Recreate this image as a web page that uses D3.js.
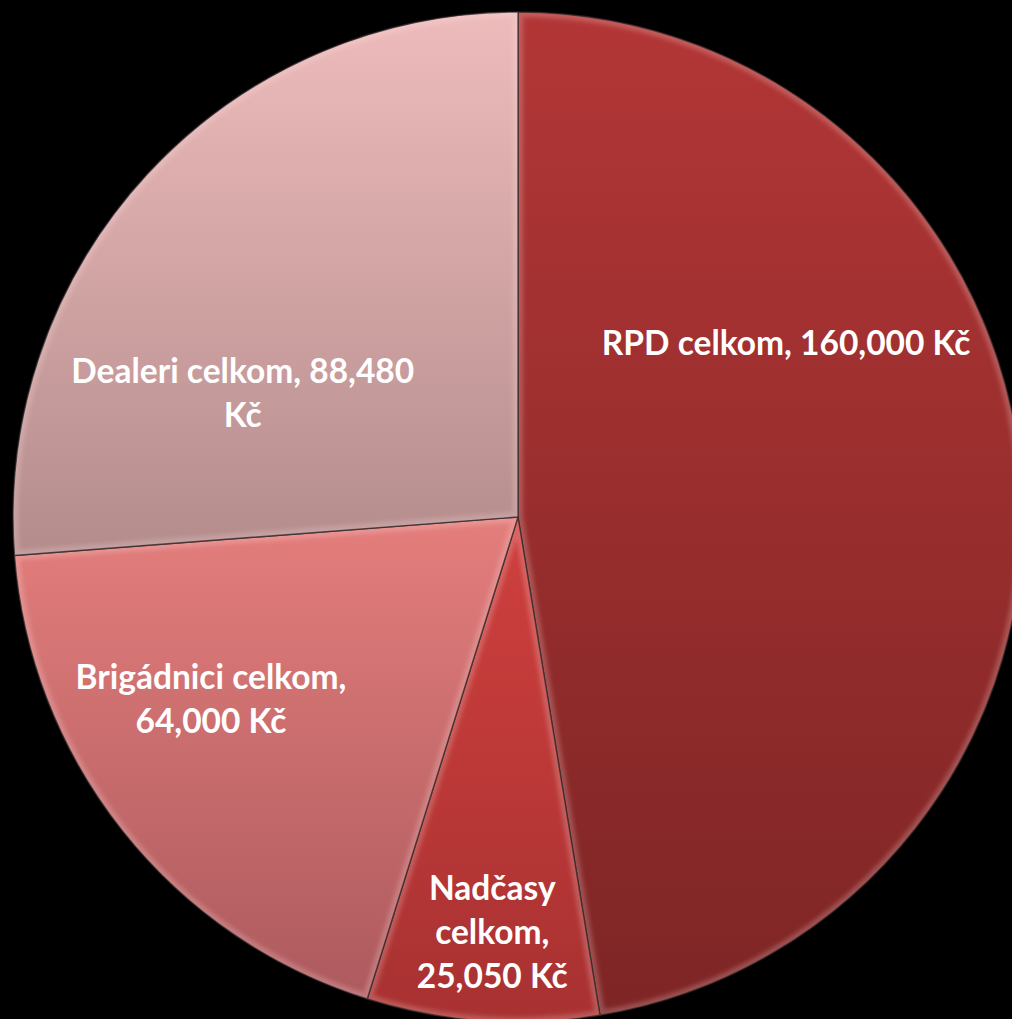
<!DOCTYPE html>
<html><head><meta charset="utf-8">
<script src="https://cdn.jsdelivr.net/npm/d3@7"></script>
<style>html,body{margin:0;padding:0;background:#000;}svg{display:block;}</style>
</head><body>
<script>
const categories = ["RPD celkom", "Nadčasy celkom", "Brigádnici celkom", "Dealeri celkom"];
const values = [160000, 25050, 64000, 88480];
const labelLines = [
  ["RPD celkom, 160,000 Kč"],
  ["Nadčasy", "celkom,", "25,050 Kč"],
  ["Brigádnici celkom,", "64,000 Kč"],
  ["Dealeri celkom, 88,480", "Kč"]
];
const topColors = ["#b33636", "#cf403e", "#e47e7c", "#eebbbb"];
const bottomColors = ["#7e2525", "#a83131", "#ad5a5e", "#b48c8c"];
// label anchor offsets as fractions of radius (x, y of first baseline)
const labelOffsets = [[0.531, -0.321], [-0.051, 0.758], [-0.608, 0.341], [-0.545, -0.265]];

const W = 1012, H = 1019;
const cx = 518, cy = 517, R = 505;

const svg = d3.select("body").append("svg").attr("width", W).attr("height", H);
svg.append("rect").attr("width", W).attr("height", H).attr("fill", "#000");
const defs = svg.append("defs");

const data = categories.map((c, i) => ({name: c, value: values[i], i}));
const pie = d3.pie().value(d => d.value).sort(null);
const arcs = pie(data);
const arc = d3.arc().innerRadius(0).outerRadius(R);

arcs.forEach((a, i) => {
  const g = defs.append("linearGradient").attr("id", "grad" + i)
    .attr("x1", 0).attr("y1", 0).attr("x2", 0).attr("y2", 1);
  g.append("stop").attr("offset", "0%").attr("stop-color", topColors[i]);
  g.append("stop").attr("offset", "100%").attr("stop-color", bottomColors[i]);
  defs.append("clipPath").attr("id", "clip" + i).append("path").attr("d", arc(a));
});
const blur = defs.append("filter").attr("id", "blur").attr("x", "-10%").attr("y", "-10%").attr("width", "120%").attr("height", "120%");
blur.append("feGaussianBlur").attr("stdDeviation", 2);

const gPie = svg.append("g").attr("transform", `translate(${cx},${cy})`);

const slices = gPie.selectAll("g.slice").data(arcs).enter().append("g").attr("class", "slice");
slices.append("path").attr("d", arc).attr("fill", (d, i) => `url(#grad${i})`);
// bevel highlight inside each slice
slices.append("g").attr("clip-path", (d, i) => `url(#clip${i})`)
  .append("path").attr("d", arc)
  .attr("fill", "none").attr("stroke", "rgba(255,230,230,0.22)").attr("stroke-width", 10)
  .attr("filter", "url(#blur)");
slices.append("path").attr("d", arc)
  .attr("fill", "none").attr("stroke", "rgba(50,40,40,0.75)").attr("stroke-width", 1.4)
  .attr("stroke-linejoin", "round");

const fontSize = 33.5, lineH = 44;
const labels = gPie.selectAll("text.lbl").data(arcs).enter().append("text")
  .attr("class", "lbl")
  .attr("text-anchor", "middle")
  .attr("font-family", "Lato, 'Open Sans', sans-serif")
  .attr("font-weight", "bold")
  .attr("font-size", fontSize)
  .attr("fill", "#fff");
labels.each(function(d, i) {
  const t = d3.select(this);
  const x = labelOffsets[i][0] * R, y = labelOffsets[i][1] * R;
  labelLines[i].forEach((ln, k) => {
    t.append("tspan").attr("x", x).attr("y", y + k * lineH).text(ln);
  });
});
</script>
</body></html>
